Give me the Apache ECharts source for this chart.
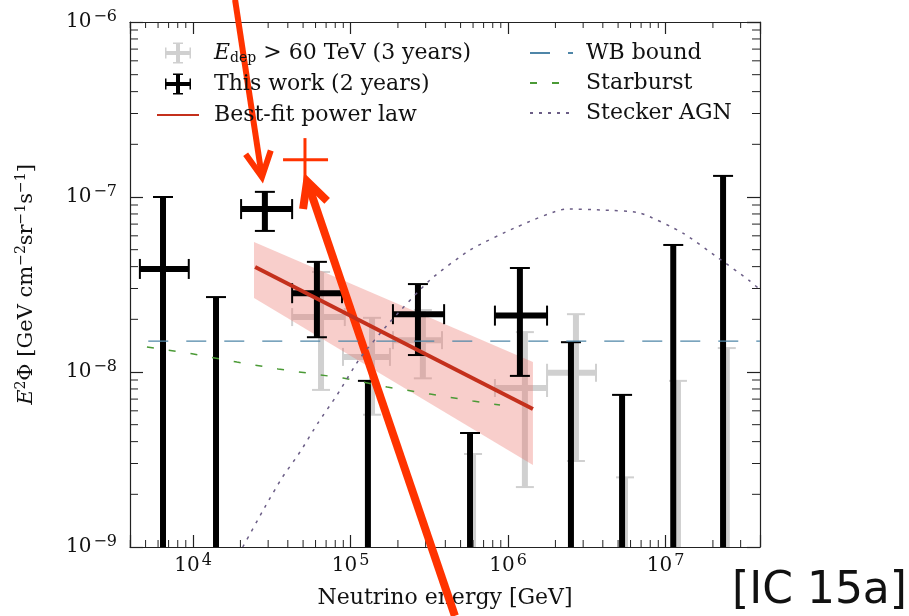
<!DOCTYPE html>
<html>
<head>
<meta charset="utf-8">
<title>Neutrino spectrum</title>
<script src="https://cdn.jsdelivr.net/npm/echarts@6.0.0/dist/echarts.min.js"></script>
<style>
  html, body { margin: 0; padding: 0; background: #fff; }
  #grafico { width: 909px; height: 616px; }
</style>
</head>
<body>
<div id="grafico"></div>
<script>
// axis ranges and tick labels (powers of ten)
const xMin = Math.pow(10, 3.6);
const xMax = Math.pow(10, 7.6);
const yMin = 1e-9;
const yMax = 1e-6;
const fluxFloor = 1e-9;
const xTickExponents = [4, 5, 6, 7];
const yTickExponents = [-9, -8, -7, -6];
const minorMultipliers = [2, 3, 4, 5, 6, 7, 8, 9];

// E_dep > 60 TeV (3 years), grey points
const hese3E = [6.5e4, 1.37e5, 2.88e5, 1.28e6, 2.7e6];
const hese3ELow = [4.26e4, 8.96e4, 1.86e5, 8.26e5, 1.77e6];
const hese3EHigh = [9.2e4, 1.78e5, 3.81e5, 1.77e6, 3.62e6];
const hese3Flux = [2.06e-8, 1.22e-8, 1.52e-8, 8.1e-9, 9.9e-9];
const hese3FluxLow = [7.9e-9, 5.7e-9, 9.2e-9, 2.2e-9, 3.1e-9];
const hese3FluxHigh = [3.73e-8, 2.04e-8, 2.26e-8, 1.69e-8, 2.14e-8];
const hese3LimitE = [6.0e5, 5.53e6, 1.2e7, 2.45e7];
const hese3Limit = [3.4e-9, 2.5e-9, 8.9e-9, 1.37e-8];

// This work (2 years), black points
const thisWorkE = [6.45e3, 2.86e4, 6.12e4, 2.68e5, 1.19e6];
const thisWorkELow = [4.6e3, 2.02e4, 4.26e4, 1.86e5, 8.26e5];
const thisWorkEHigh = [9.4e3, 4.26e4, 8.83e4, 3.93e5, 1.77e6];
const thisWorkFlux = [3.88e-8, 8.53e-8, 2.82e-8, 2.14e-8, 2.1e-8];
const thisWorkFluxLow = [1e-9, 6.4e-8, 1.58e-8, 1.25e-8, 9.5e-9];
const thisWorkFluxHigh = [1.0e-7, 1.07e-7, 4.26e-8, 3.18e-8, 3.93e-8];
const thisWorkLimitE = [1.40e4, 1.29e5, 5.74e5, 2.51e6, 5.3e6, 1.12e7, 2.32e7];
const thisWorkLimit = [2.68e-8, 8.9e-9, 4.48e-9, 1.48e-8, 7.4e-9, 5.32e-8, 1.32e-7];

// best-fit power law and its band
const fitE = [2.48e4, 1.44e6];
const fitFlux = [3.98e-8, 6.15e-9];
const bandE = [2.44e4, 1.44e6];
const bandHigh = [5.53e-8, 1.14e-8];
const bandLow = [2.65e-8, 2.94e-9];

// models
const wbE = [5.2e3, 3.98e7];
const wbFlux = [1.5e-8, 1.5e-8];
const starburstE = [5.1e3, 9.86e3, 1.9e4, 3.47e4, 8.96e4, 1.71e5, 3.2e5, 6.0e5, 8.9e5];
const starburstFlux = [1.39e-8, 1.27e-8, 1.14e-8, 1.04e-8, 9.24e-9, 8.2e-9, 7.48e-9, 6.82e-9, 6.47e-9];
const steckerE = [2.07e4, 2.86e4, 3.67e4, 4.78e4, 6.22e4, 8.21e4, 1.15e5, 1.78e5, 3.2e5, 5.74e5,
  1.14e6, 2.37e6, 3.84e6, 6.89e6, 1.29e7, 2.12e7, 3.44e7, 3.98e7];
const steckerFlux = [1.0e-9, 1.69e-9, 2.48e-9, 3.49e-9, 5.12e-9, 7.39e-9, 1.2e-8, 1.93e-8, 3.36e-8, 4.98e-8,
  6.74e-8, 8.54e-8, 8.44e-8, 8.1e-8, 6.22e-8, 4.54e-8, 3.31e-8, 2.95e-8];

// red annotations drawn over the figure
const arrowFromE = [1.85e4, 4.6e5];
const arrowFromFlux = [1.34e-6, 4.04e-10];
const arrowToE = [2.74e4, 5.3e4];
const arrowToFlux = [1.30e-7, 1.23e-7];
const markE = [5.14e4];
const markELow = [3.73e4];
const markEHigh = [7.2e4];
const markFlux = [1.63e-7];
const markFluxLow = [1.2e-7];
const markFluxHigh = [2.17e-7];

const heseName = 'E_dep > 60 TeV (3 years)';
const serif = 'DejaVu Serif';
const ink = '#111';
const axisColor = '#222';
const grey = '#d0d0d0';
const annotRed = '#ff3300';
const noSymbol = 'rgba(0,0,0,0)';

// minor ticks 2..9 x 10^k inside the ranges
const xMinor = [];
const yMinor = [];
for (let k = 3; k <= 7; k++) {
  minorMultipliers.forEach((m) => {
    const v = m * Math.pow(10, k);
    if (v > xMin && v < xMax) xMinor.push([v, yMin]);
  });
}
for (let k = -9; k <= -7; k++) {
  minorMultipliers.forEach((m) => {
    yMinor.push([xMin, m * Math.pow(10, k)]);
  });
}

const rows = (cols) => cols[0].map((_, i) => cols.map((c) => c[i]));

function powerLabel(exponents) {
  return function (value) {
    const e = Math.log10(value);
    const k = Math.round(e);
    if (Math.abs(e - k) > 1e-6 || exponents.indexOf(k) < 0) return '';
    return '{b|10}{s|' + (k < 0 ? '\u2212' + (-k) : k) + '}';
  };
}

const supRich = {
  b: { fontFamily: serif, fontSize: 20, lineHeight: 26, color: ink },
  s: { fontFamily: serif, fontSize: 16, lineHeight: 15, verticalAlign: 'top', color: ink, padding: [0, 0, 0, 2] },
};

function errorBars(color, barWidth, capWidth, capLength) {
  return function (params, api) {
    const x = api.value(0);
    const y = api.value(1);
    const c = api.coord([x, y]);
    const left = api.coord([api.value(2), y]);
    const right = api.coord([api.value(3), y]);
    const bottom = api.coord([x, api.value(4)]);
    const top = api.coord([x, api.value(5)]);
    const bar = { stroke: color, lineWidth: barWidth, lineCap: 'butt' };
    const cap = { stroke: color, lineWidth: capWidth };
    const h = capLength / 2;
    const children = [
      { type: 'line', shape: { x1: c[0], y1: top[1], x2: c[0], y2: bottom[1] }, style: bar },
      { type: 'line', shape: { x1: left[0], y1: c[1], x2: right[0], y2: c[1] }, style: bar },
    ];
    if (h > 0) {
      children.push({ type: 'line', shape: { x1: c[0] - h, y1: top[1], x2: c[0] + h, y2: top[1] }, style: cap });
      if (api.value(4) > fluxFloor) {
        children.push({ type: 'line', shape: { x1: c[0] - h, y1: bottom[1], x2: c[0] + h, y2: bottom[1] }, style: cap });
      }
      children.push({ type: 'line', shape: { x1: left[0], y1: c[1] - h, x2: left[0], y2: c[1] + h }, style: cap });
      children.push({ type: 'line', shape: { x1: right[0], y1: c[1] - h, x2: right[0], y2: c[1] + h }, style: cap });
    }
    return { type: 'group', children };
  };
}

function upperLimits(color, barWidth, capWidth, capLength) {
  return function (params, api) {
    const x = api.value(0);
    const top = api.coord([x, api.value(1)]);
    const bottom = api.coord([x, fluxFloor]);
    const h = capLength / 2;
    return {
      type: 'group',
      children: [
        { type: 'line', shape: { x1: top[0], y1: top[1], x2: top[0], y2: bottom[1] }, style: { stroke: color, lineWidth: barWidth } },
        { type: 'line', shape: { x1: top[0] - h, y1: top[1], x2: top[0] + h, y2: top[1] }, style: { stroke: color, lineWidth: capWidth } },
      ],
    };
  };
}

function renderBand(params, api) {
  const i = params.dataIndex;
  if (i >= bandE.length - 1) return null;
  const pts = [
    api.coord([bandE[i], bandHigh[i]]),
    api.coord([bandE[i + 1], bandHigh[i + 1]]),
    api.coord([bandE[i + 1], bandLow[i + 1]]),
    api.coord([bandE[i], bandLow[i]]),
  ];
  return { type: 'polygon', shape: { points: pts }, style: { fill: 'rgba(236,120,110,0.36)' } };
}

function renderArrow(params, api) {
  const tail = api.coord([api.value(0), api.value(1)]);
  const tip = api.coord([api.value(2), api.value(3)]);
  const ang = Math.atan2(tail[1] - tip[1], tail[0] - tip[0]);
  const len = 28;
  const spread = 27 * Math.PI / 180;
  const a1 = [tip[0] + len * Math.cos(ang + spread), tip[1] + len * Math.sin(ang + spread)];
  const a2 = [tip[0] + len * Math.cos(ang - spread), tip[1] + len * Math.sin(ang - spread)];
  const end = [tip[0] + 4 * Math.cos(ang), tip[1] + 4 * Math.sin(ang)];
  const st = { stroke: annotRed, lineWidth: params.dataIndex === 0 ? 6 : 8, fill: null, lineJoin: 'miter' };
  return {
    type: 'group',
    children: [
      { type: 'line', shape: { x1: tail[0], y1: tail[1], x2: end[0], y2: end[1] }, style: st },
      { type: 'polyline', shape: { points: [a1, tip, a2] }, style: st },
    ],
  };
}

function renderMinorX(params, api) {
  const v = api.value(0);
  const b = api.coord([v, yMin]);
  const t = api.coord([v, yMax]);
  const st = { stroke: axisColor, lineWidth: 1 };
  return {
    type: 'group',
    children: [
      { type: 'line', shape: { x1: b[0], y1: b[1], x2: b[0], y2: b[1] - 7 }, style: st },
      { type: 'line', shape: { x1: t[0], y1: t[1], x2: t[0], y2: t[1] + 6 }, style: st },
    ],
  };
}

function renderMinorY(params, api) {
  const v = api.value(1);
  const l = api.coord([xMin, v]);
  const r = api.coord([xMax, v]);
  const st = { stroke: axisColor, lineWidth: 1 };
  return {
    type: 'group',
    children: [
      { type: 'line', shape: { x1: l[0], y1: l[1], x2: l[0] + 8, y2: l[1] }, style: st },
      { type: 'line', shape: { x1: r[0], y1: r[1], x2: r[0] - 8, y2: r[1] }, style: st },
    ],
  };
}

const crossIcon = 'path://M11,0h4v21h-4z M0,8.5h26v4h-26z M8,0h10v1.5h-10z M8,19.5h10v1.5h-10z M0,5h1.5v11h-1.5z M24.5,5h1.5v11h-1.5z';

function axisBase(pos, showLabel) {
  const isX = pos === 'bottom' || pos === 'top';
  return {
    type: 'log',
    logBase: 10,
    min: isX ? xMin : yMin,
    max: isX ? xMax : yMax,
    position: pos,
    axisLine: { show: true, onZero: false, lineStyle: { color: axisColor, width: 1.2 } },
    axisTick: { show: true, inside: true, length: isX ? 12 : 13, lineStyle: { color: axisColor, width: 1.2 } },
    minorTick: { show: false },
    splitLine: { show: false },
    axisLabel: {
      show: showLabel,
      margin: isX ? 6 : 13,
      formatter: powerLabel(isX ? xTickExponents : yTickExponents),
      rich: supRich,
    },
  };
}

const legendFamily = '"DejaVu Serif", serif';
const legendRich = {
  t: { fontFamily: legendFamily, fontSize: 22, lineHeight: 24, color: ink },
  i: { fontFamily: legendFamily, fontSize: 22, lineHeight: 24, fontStyle: 'italic', color: ink },
  sub: { fontFamily: legendFamily, fontSize: 14, lineHeight: 14, verticalAlign: 'bottom', color: ink },
};

const chart = echarts.init(document.getElementById('grafico'), null, { renderer: 'canvas' });

const option = {
  animation: false,
  backgroundColor: '#fff',
  textStyle: { fontFamily: serif, color: ink },
  grid: { left: 130, right: 149, top: 22, bottom: 69, outerBoundsMode: 'none' },
  xAxis: [
    Object.assign(axisBase('bottom', true), {
      name: 'Neutrino energy [GeV]',
      nameLocation: 'middle',
      nameGap: 40,
      nameTextStyle: { fontFamily: serif, fontSize: 22, color: ink },
    }),
    axisBase('top', false),
  ],
  yAxis: [
    Object.assign(axisBase('left', true), {
      name: '{i|E}{s|2}\u03A6 [GeV cm{s|\u22122}sr{s|\u22121}s{s|\u22121}]',
      nameLocation: 'middle',
      nameGap: 90,
      nameRotate: 90,
      nameTextStyle: {
        fontFamily: serif, fontSize: 21, lineHeight: 26, color: ink,
        rich: {
          i: { fontFamily: serif, fontSize: 21, lineHeight: 26, fontStyle: 'italic', color: ink },
          s: { fontFamily: serif, fontSize: 14, lineHeight: 14, verticalAlign: 'top', color: ink },
        },
      },
    }),
    axisBase('right', false),
  ],
  legend: [
    {
      orient: 'vertical',
      left: 151,
      top: 36,
      itemWidth: 42,
      itemHeight: 21,
      itemGap: 7,
      selectedMode: false,
      data: [
        { name: heseName, icon: crossIcon },
        { name: 'This work (2 years)', icon: crossIcon },
        { name: 'Best-fit power law' },
      ],
      formatter: (name) => (name === heseName ? '{i|E}{sub|dep}{t| > 60 TeV (3 years)}' : '{t|' + name + '}'),
      textStyle: { fontFamily: legendFamily, fontSize: 22, lineHeight: 24, color: ink, padding: [0, 0, 0, 10], rich: legendRich },
    },
    {
      orient: 'vertical',
      left: 524,
      top: 36,
      itemWidth: 43,
      itemHeight: 21,
      itemGap: 6,
      selectedMode: false,
      data: ['WB bound', 'Starburst', 'Stecker AGN'],
      formatter: (name) => '{t|' + name + '}',
      textStyle: { fontFamily: legendFamily, fontSize: 22, lineHeight: 24, color: ink, padding: [0, 0, 0, 8], rich: legendRich },
    },
  ],
  graphic: [
    {
      type: 'text',
      right: 2,
      bottom: 2,
      style: { text: '[IC 15a]', font: '44px "DejaVu Sans"', fill: '#111' },
    },
  ],
  series: [
    {
      name: heseName,
      type: 'custom',
      itemStyle: { color: grey },
      renderItem: errorBars(grey, 6, 2, 18),
      data: rows([hese3E, hese3Flux, hese3ELow, hese3EHigh, hese3FluxLow, hese3FluxHigh]),
    },
    {
      name: heseName,
      type: 'custom',
      itemStyle: { color: grey },
      renderItem: upperLimits(grey, 6, 2, 18),
      data: rows([hese3LimitE, hese3Limit]),
    },
    {
      type: 'custom',
      silent: true,
      renderItem: renderBand,
      data: rows([bandE, bandLow, bandHigh]),
    },
    {
      name: 'WB bound',
      type: 'line',
      symbol: 'none',
      itemStyle: { color: noSymbol },
      lineStyle: { color: '#4f86a8', width: 1.3, type: [20, 18] },
      data: rows([wbE, wbFlux]),
    },
    {
      name: 'Starburst',
      type: 'line',
      symbol: 'none',
      itemStyle: { color: noSymbol },
      lineStyle: { color: '#4b9a36', width: 1.5, type: [7, 15] },
      data: rows([starburstE, starburstFlux]),
    },
    {
      name: 'Stecker AGN',
      type: 'line',
      symbol: 'none',
      smooth: 0.2,
      itemStyle: { color: noSymbol },
      lineStyle: { color: '#6b5d86', width: 1.5, type: [3, 6] },
      data: rows([steckerE, steckerFlux]),
    },
    {
      name: 'Best-fit power law',
      type: 'line',
      symbol: 'none',
      itemStyle: { color: noSymbol },
      lineStyle: { color: '#c4301c', width: 4 },
      data: rows([fitE, fitFlux]),
    },
    {
      name: 'This work (2 years)',
      type: 'custom',
      itemStyle: { color: '#000' },
      renderItem: errorBars('#000', 6, 2, 20),
      data: rows([thisWorkE, thisWorkFlux, thisWorkELow, thisWorkEHigh, thisWorkFluxLow, thisWorkFluxHigh]),
    },
    {
      name: 'This work (2 years)',
      type: 'custom',
      itemStyle: { color: '#000' },
      renderItem: upperLimits('#000', 6, 2, 20),
      data: rows([thisWorkLimitE, thisWorkLimit]),
    },
    {
      type: 'custom',
      silent: true,
      renderItem: renderMinorX,
      data: xMinor,
    },
    {
      type: 'custom',
      silent: true,
      renderItem: renderMinorY,
      data: yMinor,
    },
    {
      type: 'custom',
      silent: true,
      renderItem: errorBars(annotRed, 3, 0, 0),
      data: rows([markE, markFlux, markELow, markEHigh, markFluxLow, markFluxHigh]),
    },
    {
      type: 'custom',
      silent: true,
      renderItem: renderArrow,
      data: rows([arrowFromE, arrowFromFlux, arrowToE, arrowToFlux]),
    },
  ],
};

chart.setOption(option);
</script>
</body>
</html>
